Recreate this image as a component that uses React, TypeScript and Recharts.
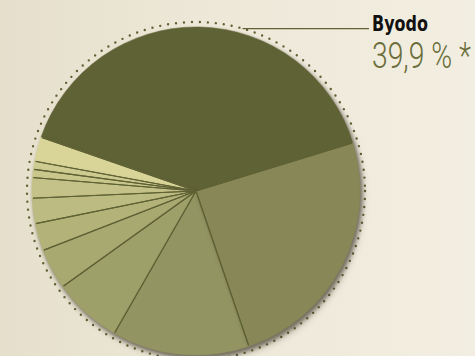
import React from "react";
import { PieChart, Pie, Cell } from "recharts";

const PARTIES = ["Byodo", "s1", "s2", "s3", "s4", "s5", "s6", "s7", "s8", "s9", "s10"];
const SHARES = [39.9, 2.4, 0.8, 0.8, 2.0, 2.5, 2.7, 4.0, 6.8, 13.5, 24.5];
const COLORS = [
  "#5f6235", "#d9d497", "#cfcc91", "#cac78c", "#c4c288", "#bcbb81",
  "#b2b279", "#a8a871", "#9ea06a", "#929462", "#878757",
];
const HEAD_LABEL = "Byodo";
const HEAD_VALUE = "39,9 % *";

const data = PARTIES.map((name, i) => ({ name, value: SHARES[i] }));

const CX = 196;
const CY = 191;
const R = 164;
const SQUEEZE = 0.78;

const renderLabel = (props: any) => {
  if (props.index !== 0) return null;
  const { cx, cy, outerRadius } = props;
  const ringR = outerRadius + 5;
  const a = (74 * Math.PI) / 180;
  const x0 = cx + ringR * Math.cos(a);
  const y0 = cy - ringR * Math.sin(a);
  return (
    <g>
      <line x1={x0} y1={y0} x2={369} y2={y0} stroke="#5f6235" strokeWidth={1.2} />
      <text
        transform={`translate(372,31) scale(${SQUEEZE},1)`}
        fill="#111"
        fontSize={21}
        fontWeight="bold"
        fontFamily="'DejaVu Sans Condensed', sans-serif"
        textLength={56 / SQUEEZE}
        lengthAdjust="spacingAndGlyphs"
      >
        {HEAD_LABEL}
      </text>
      <text
        transform={`translate(372,68) scale(${SQUEEZE},1)`}
        fill="#6b6d3b"
        fontSize={37}
        fontWeight={300}
        fontFamily="Roboto, sans-serif"
        textLength={99 / SQUEEZE}
        lengthAdjust="spacingAndGlyphs"
      >
        {HEAD_VALUE}
      </text>
    </g>
  );
};

export default function App() {
  return (
    <div
      style={{
        position: "fixed",
        left: 0,
        top: 0,
        width: 475,
        height: 356,
        overflow: "hidden",
        background: "linear-gradient(90deg, #e6dfcc 0%, #ede8d8 45%, #f2eee1 100%)",
      }}
    >
      <style>{`
        .pie-main { filter: drop-shadow(2px 3px 2px rgba(60,55,40,0.45)); }
        .pie-lines { clip-path: url(#pieClip); }
      `}</style>
      <PieChart width={475} height={356} margin={{ top: 0, right: 0, bottom: 0, left: 0 }}>
        <defs>
          <radialGradient id="rim" cx="50%" cy="50%" r="50%">
            <stop offset="80%" stopColor="#fffbe0" stopOpacity={0} />
            <stop offset="97%" stopColor="#fffbe0" stopOpacity={0.14} />
            <stop offset="100%" stopColor="#fffbe0" stopOpacity={0.05} />
          </radialGradient>
          <clipPath id="pieClip">
            <circle cx={CX} cy={CY} r={R - 0.5} />
          </clipPath>
        </defs>
        <circle
          cx={CX}
          cy={CY}
          r={R + 5}
          fill="none"
          stroke="#5f6235"
          strokeWidth={2.4}
          strokeDasharray="0 8"
          strokeLinecap="round"
        />
        <Pie
          className="pie-main"
          data={data}
          dataKey="value"
          nameKey="name"
          cx={CX}
          cy={CY}
          outerRadius={R}
          startAngle={17.1}
          endAngle={377.1}
          stroke="none"
          label={renderLabel}
          labelLine={false}
          isAnimationActive={false}
        >
          {data.map((d, i) => (
            <Cell key={d.name} fill={COLORS[i]} stroke={COLORS[i]} strokeWidth={0.5} />
          ))}
        </Pie>
        <Pie
          className="pie-lines"
          data={data}
          dataKey="value"
          cx={CX}
          cy={CY}
          outerRadius={R + 4}
          startAngle={17.1}
          endAngle={377.1}
          fill="none"
          stroke="#5f6235"
          strokeWidth={1.1}
          isAnimationActive={false}
        />
        <circle cx={CX} cy={CY} r={R} fill="url(#rim)" pointerEvents="none" />
      </PieChart>
    </div>
  );
}
